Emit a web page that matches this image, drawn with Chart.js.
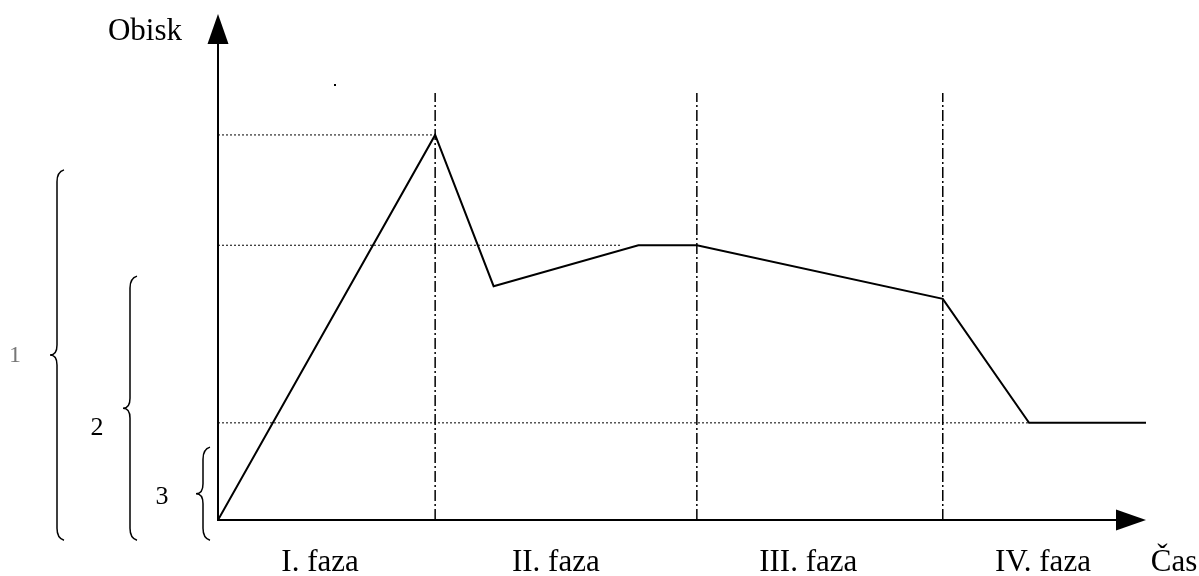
<!DOCTYPE html>
<html>
<head>
<meta charset="utf-8">
<script src="https://cdn.jsdelivr.net/npm/chart.js@4"></script>
<style>
  body { margin: 0; background: #fff; }
  #wrap { width: 1199px; height: 576px; }
</style>
</head>
<body>
<div id="wrap"><canvas id="chart" width="1199" height="576"></canvas></div>
<script>
// visits curve (time 0..100, visits 0..100)
const timeValues = [0, 23.4, 29.7, 45.3, 51.6, 78.1, 87.4, 100];
const visitValues = [0, 76.1, 46.2, 54.3, 54.3, 43.7, 19.2, 19.2];

// phase borders and labels
const phaseBorders = [23.4, 51.6, 78.1];
const phaseTop = 84.4;
const phaseLabels = ['I. faza', 'II. faza', 'III. faza', 'IV. faza'];
const phaseLabelX = [11.0, 36.4, 63.6, 88.9];

// dotted reference levels: [level, end of line]
const levelValues = [76.1, 54.3, 19.2];
const levelEnds = [23.4, 43.5, 87.4];

// braces on the left: [top, label]
const braceTops = [69.2, 48.2, 14.4];
const braceBottom = -4;
const braceLabels = ['1', '2', '3'];

const axisTitleY = 'Obisk';
const axisTitleX = 'Čas';

const datasets = [];
datasets.push({
    data: timeValues.map((t, i) => ({x: t, y: visitValues[i]})),
    borderColor: '#000', borderWidth: 2, pointRadius: 0, tension: 0
});
levelValues.forEach((v, i) => {
    datasets.push({
        data: [{x: 0, y: v}, {x: levelEnds[i], y: v}],
        borderColor: '#000', borderWidth: 1, borderDash: [2, 2], pointRadius: 0
    });
});
phaseBorders.forEach(b => {
    datasets.push({
        data: [{x: b, y: 0}, {x: b, y: phaseTop}],
        borderColor: '#000', borderWidth: 1.5, borderDash: [11, 3, 2, 3], pointRadius: 0
    });
});

const extras = {
    id: 'extras',
    afterDraw(chart) {
        const ctx = chart.ctx;
        const xs = chart.scales.x, ys = chart.scales.y;
        const x0 = xs.getPixelForValue(0), y0 = ys.getPixelForValue(0);
        const xEnd = xs.getPixelForValue(100), yEnd = ys.getPixelForValue(100);
        ctx.save();
        ctx.strokeStyle = '#000';
        ctx.fillStyle = '#000';
        ctx.lineWidth = 2;
        // axes
        ctx.beginPath();
        ctx.moveTo(x0, yEnd + 28);
        ctx.lineTo(x0, y0);
        ctx.lineTo(xEnd - 28, y0);
        ctx.stroke();
        ctx.beginPath();
        ctx.moveTo(x0, yEnd);
        ctx.lineTo(x0 - 10.5, yEnd + 30);
        ctx.lineTo(x0 + 10.5, yEnd + 30);
        ctx.closePath();
        ctx.fill();
        ctx.beginPath();
        ctx.moveTo(xEnd, y0);
        ctx.lineTo(xEnd - 30, y0 - 10.5);
        ctx.lineTo(xEnd - 30, y0 + 10.5);
        ctx.closePath();
        ctx.fill();

        // texts
        ctx.font = '31px "Liberation Serif"';
        ctx.textAlign = 'center';
        ctx.textBaseline = 'alphabetic';
        ctx.fillText(axisTitleY, x0 - 73, 40);
        phaseLabels.forEach((l, i) => ctx.fillText(l, xs.getPixelForValue(phaseLabelX[i]), 571));
        ctx.fillText(axisTitleX, xEnd + 28, 571);

        // braces
        const braceX = [x0 - 161, x0 - 88, x0 - 15];
        const labelX = [15, 97, 162];
        ctx.lineWidth = 1.5;
        braceTops.forEach((t, i) => {
            const top = ys.getPixelForValue(t), bot = ys.getPixelForValue(braceBottom);
            const mid = (top + bot) / 2;
            const bx = braceX[i];
            ctx.beginPath();
            ctx.moveTo(bx + 7, top);
            ctx.quadraticCurveTo(bx, top + 2, bx, top + 12);
            ctx.lineTo(bx, mid - 10);
            ctx.quadraticCurveTo(bx, mid, bx - 7, mid);
            ctx.quadraticCurveTo(bx, mid, bx, mid + 10);
            ctx.lineTo(bx, bot - 12);
            ctx.quadraticCurveTo(bx, bot - 2, bx + 7, bot);
            ctx.stroke();
        });
        ctx.font = '26px "Liberation Serif"';
        ctx.textBaseline = 'middle';
        ctx.fillStyle = '#777';
        ctx.font = '24px "Liberation Serif"';
        ctx.fillText(braceLabels[0], labelX[0], 356);
        ctx.fillStyle = '#000';
        ctx.font = '26px "Liberation Serif"';
        ctx.fillText(braceLabels[1], labelX[1], 428);
        ctx.fillText(braceLabels[2], labelX[2], 497);
        // stray dot
        ctx.fillRect(334, 84, 2, 2);
        ctx.restore();
    }
};

new Chart(document.getElementById('chart'), {
    type: 'line',
    data: { datasets: datasets },
    options: {
        responsive: false,
        animation: false,
        layout: { padding: { left: 218, right: 53, top: 14, bottom: 56 } },
        plugins: { legend: { display: false }, tooltip: { enabled: false } },
        scales: {
            x: { type: 'linear', min: 0, max: 100, display: false },
            y: { type: 'linear', min: 0, max: 100, display: false }
        }
    },
    plugins: [extras]
});
</script>
</body>
</html>
